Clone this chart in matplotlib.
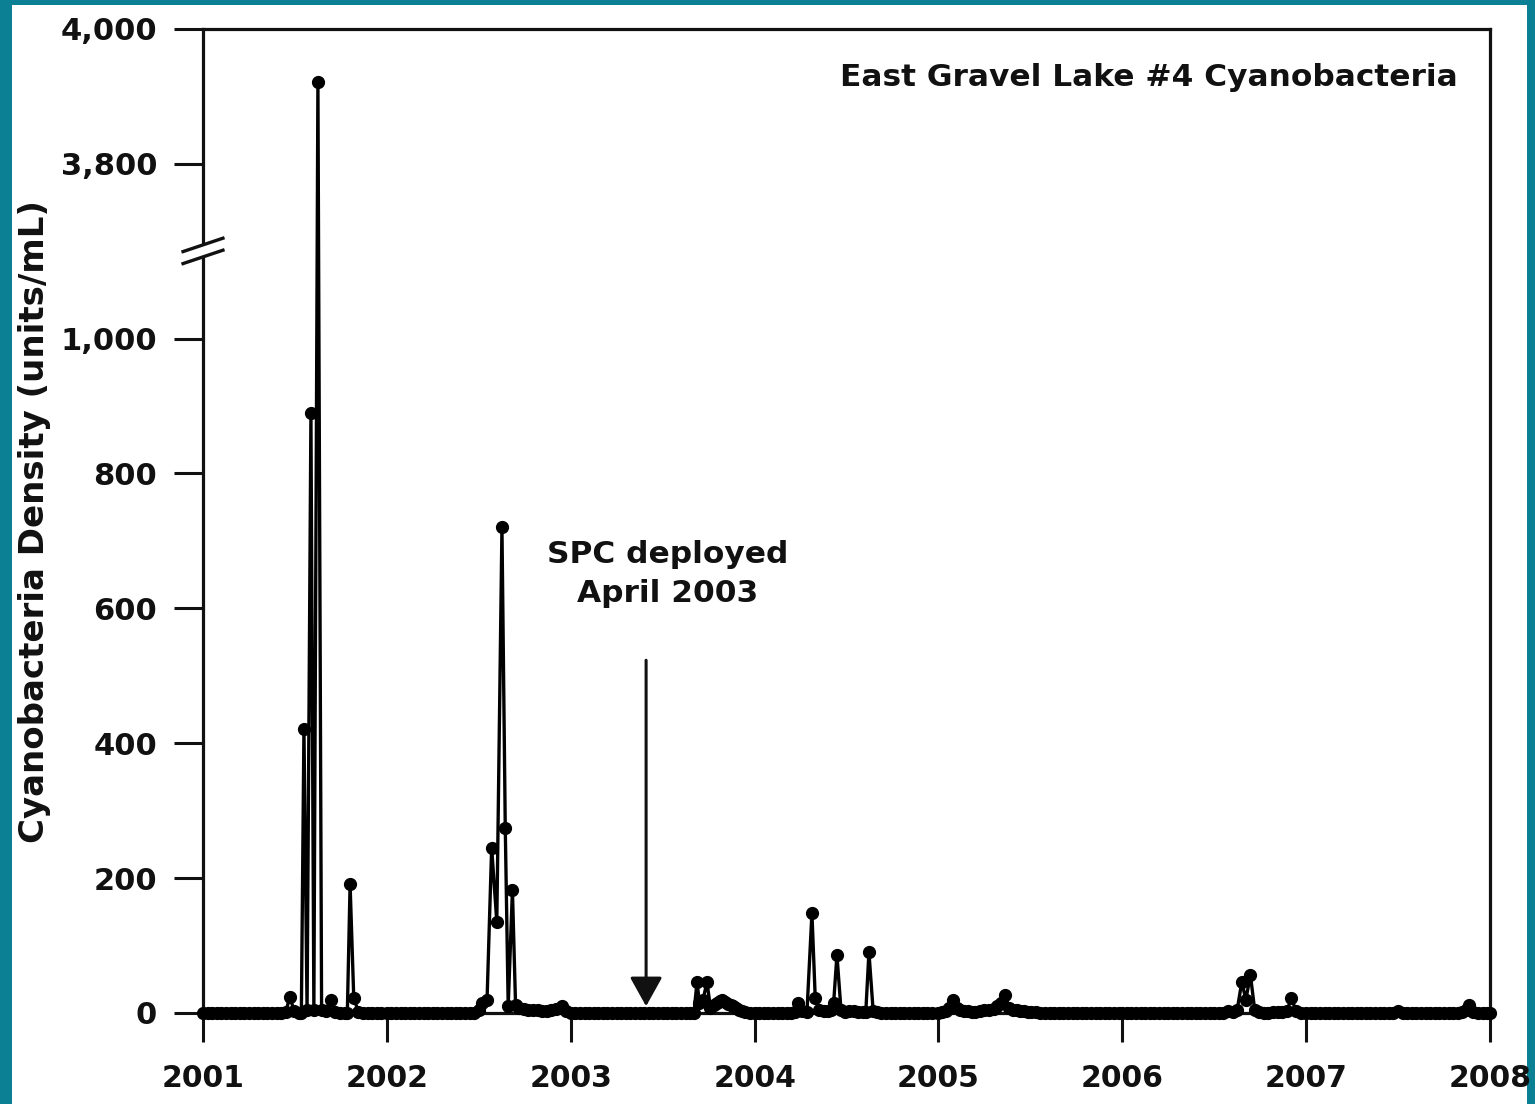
import numpy as np
import matplotlib
matplotlib.use("Agg")
import matplotlib.pyplot as plt
from matplotlib.patches import Rectangle, Polygon
from matplotlib.lines import Line2D

plt.rcParams['font.family'] = ['DejaVu Sans']
plt.rcParams['font.weight'] = 'bold'

# ---------------- data (decimal year, units/mL) ----------------
dates_2001 = [2001.000, 2001.025, 2001.050, 2001.075, 2001.100, 2001.125, 2001.150, 2001.175,
              2001.200, 2001.225, 2001.250, 2001.275, 2001.300, 2001.325, 2001.350, 2001.375,
              2001.400, 2001.425, 2001.450, 2001.473, 2001.495, 2001.520, 2001.535, 2001.549,
              2001.566, 2001.587, 2001.603, 2001.625, 2001.645, 2001.670, 2001.696, 2001.720,
              2001.745, 2001.770, 2001.785, 2001.800, 2001.820, 2001.845, 2001.870, 2001.895,
              2001.920, 2001.945, 2001.970]
vals_2001 = [0, 0, 0, 0, 0, 0, 0, 0,
             0, 0, 0, 0, 0, 0, 0, 0,
             0, 0, 2, 24, 3, 0, 0, 421,
             5, 889, 5, 3922, 4, 3, 19, 2,
             0, 0, 0, 191, 22, 2, 0, 0,
             0, 0, 0]

dates_2002 = [2002.000, 2002.025, 2002.050, 2002.075, 2002.100, 2002.125, 2002.150, 2002.175,
              2002.200, 2002.225, 2002.250, 2002.275, 2002.300, 2002.325, 2002.350, 2002.375,
              2002.400, 2002.425, 2002.450, 2002.475, 2002.500, 2002.520, 2002.545, 2002.570,
              2002.598, 2002.626, 2002.644, 2002.660, 2002.683, 2002.700, 2002.720, 2002.745,
              2002.770, 2002.795, 2002.820, 2002.845, 2002.870, 2002.895, 2002.920, 2002.953,
              2002.975]
vals_2002 = [0, 0, 0, 0, 0, 0, 0, 0,
             0, 0, 0, 0, 0, 0, 0, 0,
             0, 0, 0, 0, 4, 15, 20, 245,
             135, 720, 275, 10, 182, 12, 8, 6,
             5, 4, 4, 3, 3, 5, 6, 10,
             3]

dates_2003 = [2003.000, 2003.025, 2003.050, 2003.075, 2003.100, 2003.125, 2003.150, 2003.175,
              2003.200, 2003.225, 2003.250, 2003.275, 2003.300, 2003.325, 2003.350, 2003.375,
              2003.400, 2003.425, 2003.450, 2003.475, 2003.500, 2003.525, 2003.550, 2003.575,
              2003.600, 2003.625, 2003.650, 2003.670, 2003.687, 2003.700, 2003.720, 2003.741,
              2003.760, 2003.778, 2003.795, 2003.810, 2003.825, 2003.840, 2003.855, 2003.870,
              2003.885, 2003.900, 2003.915, 2003.930, 2003.950, 2003.975]
vals_2003 = [0, 0, 0, 0, 0, 0, 0, 0,
             0, 0, 0, 0, 0, 0, 0, 0,
             0, 0, 0, 0, 0, 0, 0, 0,
             0, 0, 0, 0, 46, 15, 20, 46,
             8, 12, 15, 18, 20, 16, 14, 12,
             10, 7, 5, 3, 1, 0]

dates_2004 = [2004.000, 2004.025, 2004.050, 2004.075, 2004.100, 2004.125, 2004.150, 2004.175,
              2004.200, 2004.218, 2004.236, 2004.260, 2004.285, 2004.312, 2004.330, 2004.350,
              2004.375, 2004.400, 2004.415, 2004.430, 2004.448, 2004.470, 2004.490, 2004.515,
              2004.540, 2004.565, 2004.590, 2004.605, 2004.622, 2004.645, 2004.665, 2004.690,
              2004.715, 2004.740, 2004.765, 2004.790, 2004.815, 2004.840, 2004.865, 2004.890,
              2004.915, 2004.940, 2004.965]
vals_2004 = [0, 0, 0, 0, 0, 0, 0, 0,
             0, 2, 15, 3, 2, 148, 22, 4,
             3, 3, 5, 15, 86, 5, 2, 3,
             3, 2, 2, 2, 90, 3, 1, 0,
             0, 0, 0, 0, 0, 0, 0, 0,
             0, 0, 0]

dates_2005 = [2005.000, 2005.020, 2005.040, 2005.060, 2005.080, 2005.100, 2005.120, 2005.140,
              2005.160, 2005.180, 2005.200, 2005.225, 2005.250, 2005.275, 2005.300, 2005.320,
              2005.340, 2005.362, 2005.385, 2005.405, 2005.425, 2005.445, 2005.465, 2005.485,
              2005.505, 2005.530, 2005.555, 2005.580, 2005.605, 2005.630, 2005.655, 2005.680,
              2005.705, 2005.730, 2005.755, 2005.780, 2005.805, 2005.830, 2005.855, 2005.880,
              2005.905, 2005.930, 2005.955, 2005.980]
vals_2005 = [0, 2, 3, 8, 19, 8, 5, 3,
             3, 2, 2, 3, 4, 5, 6, 10,
             15, 27, 8, 5, 4, 3, 3, 2,
             2, 1, 0, 0, 0, 0, 0, 0,
             0, 0, 0, 0, 0, 0, 0, 0,
             0, 0, 0, 0]

dates_2006 = [2006.000, 2006.025, 2006.050, 2006.075, 2006.100, 2006.125, 2006.150, 2006.175,
              2006.200, 2006.225, 2006.250, 2006.275, 2006.300, 2006.325, 2006.350, 2006.375,
              2006.400, 2006.425, 2006.450, 2006.475, 2006.500, 2006.525, 2006.550, 2006.575,
              2006.600, 2006.625, 2006.650, 2006.672, 2006.697, 2006.720, 2006.745, 2006.770,
              2006.795, 2006.820, 2006.845, 2006.870, 2006.895, 2006.920, 2006.945, 2006.970]
vals_2006 = [0, 0, 0, 0, 0, 0, 0, 0,
             0, 0, 0, 0, 0, 0, 0, 0,
             0, 0, 0, 0, 0, 0, 0, 3,
             2, 5, 46, 20, 56, 5, 2, 0,
             0, 1, 1, 2, 3, 22, 3, 0]

dates_2007 = [2007.000, 2007.025, 2007.050, 2007.075, 2007.100, 2007.125, 2007.150, 2007.175,
              2007.200, 2007.225, 2007.250, 2007.275, 2007.300, 2007.325, 2007.350, 2007.375,
              2007.400, 2007.425, 2007.450, 2007.475, 2007.500, 2007.525, 2007.550, 2007.575,
              2007.600, 2007.625, 2007.650, 2007.675, 2007.700, 2007.725, 2007.750, 2007.775,
              2007.800, 2007.825, 2007.850, 2007.870, 2007.887, 2007.910, 2007.935, 2007.960,
              2007.985, 2008.000]
vals_2007 = [0, 0, 0, 0, 0, 0, 0, 0,
             0, 0, 0, 0, 0, 0, 0, 0,
             0, 0, 0, 0, 3, 0, 0, 0,
             0, 0, 0, 0, 0, 0, 0, 0,
             0, 0, 2, 4, 12, 2, 0, 0,
             0, 0]

sample_dates = dates_2001 + dates_2002 + dates_2003 + dates_2004 + dates_2005 + dates_2006 + dates_2007
density = vals_2001 + vals_2002 + vals_2003 + vals_2004 + vals_2005 + vals_2006 + vals_2007

x_ticks = [2001, 2002, 2003, 2004, 2005, 2006, 2007, 2008]
y_ticks = [0, 200, 400, 600, 800, 1000, 3800, 4000]
y_ticklabels = ['0', '200', '400', '600', '800', '1,000', '3,800', '4,000']

title_text = "East Gravel Lake #4 Cyanobacteria"
ylabel_text = "Cyanobacteria Density (units/mL)"
annot_text = "SPC deployed\nApril 2003"
spc_date = 2003.41

# ---------------- broken-axis scale ----------------
BREAK_LO, BREAK_HI = 1130.0, 3671.0
GAP = BREAK_HI - BREAK_LO

def fwd(y):
    y = np.asarray(y, dtype=float)
    return np.where(y <= BREAK_LO, y, np.where(y >= BREAK_HI, y - GAP, BREAK_LO))

def inv(z):
    z = np.asarray(z, dtype=float)
    return np.where(z <= BREAK_LO, z, z + GAP)

# ---------------- figure ----------------
W, H = 1535, 1104
fig = plt.figure(figsize=(W / 100, H / 100), dpi=100)
fig.patch.set_facecolor('#0b7f93')
fig.patches.append(Rectangle((12 / W, 0), (1527 - 12) / W, (H - 5) / H,
                             transform=fig.transFigure, facecolor='white',
                             edgecolor='none', zorder=-10))

ax = fig.add_axes([203 / W, (H - 1013) / H, (1490 - 203) / W, (1013 - 29) / H])
ax.set_facecolor('white')
ax.set_yscale('function', functions=(fwd, inv))
ax.set_xlim(2001, 2008)
ax.set_ylim(0, 4000)

ax.plot(sample_dates, density, color='black', lw=2.4, marker='o', ms=8.5,
        mfc='black', mec='black', clip_on=False, zorder=5)

for s in ax.spines.values():
    s.set_linewidth(2.3)
    s.set_color('#111111')

ax.set_xticks(x_ticks)
ax.set_xticklabels([str(v) for v in x_ticks], fontsize=21.5, fontweight='bold')
ax.set_yticks(y_ticks)
ax.set_yticklabels(y_ticklabels, fontsize=22, fontweight='bold')
ax.tick_params(axis='both', direction='out', length=21, width=2.2, color='#111111',
               labelcolor='#111111')
ax.tick_params(axis='x', pad=16)
ax.tick_params(axis='y', pad=12)
ax.minorticks_off()

# break marks on the left spine
yb = float(fwd(BREAK_LO) / fwd(4000))
dx, dy, sep = 0.0155, 0.0068, 0.0061
ax.add_patch(Polygon([(-dx, yb + sep - dy), (dx, yb + sep + dy),
                      (dx, yb - sep + dy), (-dx, yb - sep - dy)],
                     closed=True, transform=ax.transAxes, facecolor='white',
                     edgecolor='none', clip_on=False, zorder=6))
for off in (sep, -sep):
    ax.add_line(Line2D([-dx, dx], [yb + off - dy, yb + off + dy], transform=ax.transAxes,
                       color='#111111', lw=2.4, clip_on=False, zorder=7))

ax.text(0.9751, 0.9512, title_text, transform=ax.transAxes, ha='right', va='center',
        fontsize=22.5, fontweight='bold', color='#111111')

ax.text(0.3613, 0.4461, annot_text, transform=ax.transAxes, ha='center', va='center',
        fontsize=22.5, fontweight='bold', color='#111111', linespacing=1.45)
ax.annotate('', xy=(spc_date, 10), xytext=(spc_date, 523),
            arrowprops=dict(arrowstyle='-|>,head_length=0.9,head_width=0.5',
                            mutation_scale=20, lw=2.2, color='#111111',
                            shrinkA=0, shrinkB=0), zorder=8)

fig.text(35 / W, (H - 522) / H, ylabel_text, rotation=90, ha='center', va='center',
         fontsize=24.5, fontweight='bold', color='#111111')

fig.savefig('out.png', dpi=100, facecolor=fig.get_facecolor())
